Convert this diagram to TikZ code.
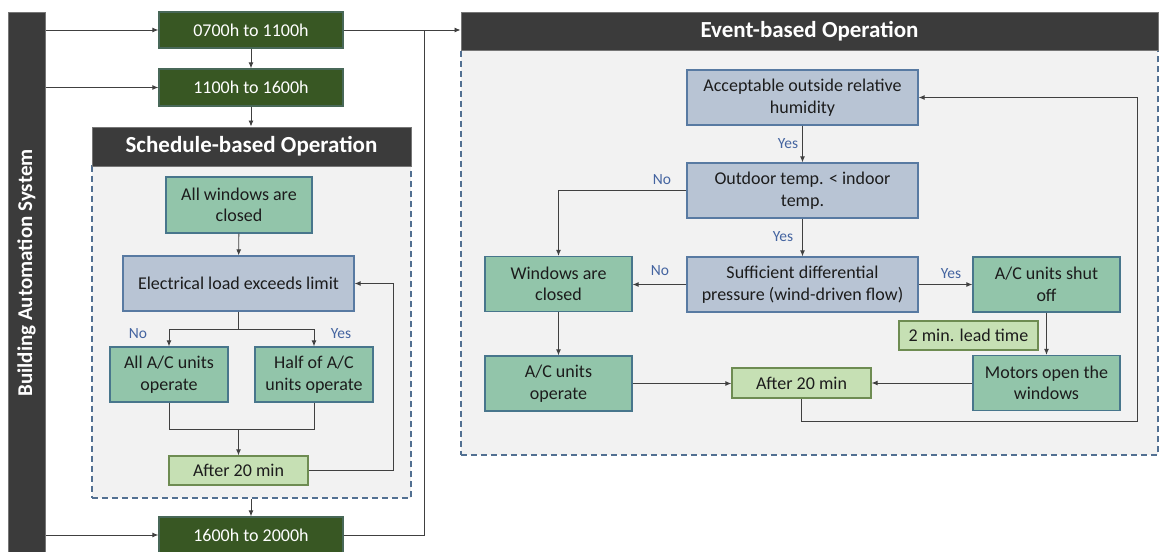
\documentclass[tikz,border=0pt]{standalone}
\usepackage{fontspec}
\setmainfont{Carlito}
\usetikzlibrary{arrows.meta}

\definecolor{timegreen}{RGB}{56,87,35}
\definecolor{timeedge}{RGB}{72,104,88}
\definecolor{actfill}{RGB}{146,197,170}
\definecolor{actedge}{RGB}{72,118,140}
\definecolor{askfill}{RGB}{184,196,212}
\definecolor{askedge}{RGB}{88,122,162}
\definecolor{waitfill}{RGB}{198,224,180}
\definecolor{waitedge}{RGB}{110,140,82}
\definecolor{headgray}{RGB}{59,59,59}
\definecolor{areafill}{RGB}{242,242,242}
\definecolor{areaedge}{RGB}{82,112,146}
\definecolor{linegray}{RGB}{64,64,64}
\definecolor{answerblue}{RGB}{68,100,160}
\definecolor{boxtext}{RGB}{28,28,28}

\tikzset{
	box/.style={draw, line width=1.3pt, inner sep=0pt, align=center, text=boxtext, font=\fontsize{18}{21.5}\selectfont},
	timebox/.style={box, fill=timegreen, draw=timeedge, text=white, minimum width=184, minimum height=36},
	actbox/.style={box, fill=actfill, draw=actedge, minimum width=147, minimum height=55},
	askbox/.style={box, fill=askfill, draw=askedge, minimum width=231, minimum height=55},
	waitbox/.style={box, fill=waitfill, draw=waitedge, minimum width=139, minimum height=29},
	headbar/.style={fill=headgray, draw=headgray!70, line width=1pt, inner sep=0pt, text=white, font=\bfseries\fontsize{23}{27}\selectfont},
	region/.style={fill=areafill, draw=areaedge, line width=1.2pt, dash pattern=on 6pt off 4pt, inner sep=0pt},
	flow/.style={draw=linegray, line width=0.9pt},
	arrow/.style={flow, -{Latex[length=6pt,width=5pt]}},
	answer/.style={text=answerblue, inner sep=0pt, font=\fontsize{15.5}{18}\selectfont},
}

\begin{document}
\begin{tikzpicture}[x=1pt, y=-1pt]
	\useasboundingbox (0,0) rectangle (1163,552);
	% building automation bar
	\node[fill=headgray, draw=headgray!70, line width=1pt, minimum width=37, minimum height=541, inner sep=0pt] (bas) at (26.5,282.5) {};
	\node[rotate=90, text=white, font=\bfseries\fontsize{21}{25}\selectfont] (bastitle) at (26.5,273) {Building Automation System};

	% time slots
	\node[timebox] (morning) at (251,30) {0700h to 1100h};
	\node[timebox, minimum height=37] (midday) at (251,87.5) {1100h to 1600h};
	\node[timebox] (evening) at (251,535) {1600h to 2000h};
	\draw[arrow] (morning.west -| bas.east) -- (morning.west);
	\draw[arrow] (midday.west -| bas.east) -- (midday.west);
	\draw[arrow] (evening.west -| bas.east) -- (evening.west);
	\draw[arrow] (morning) -- (midday);

	% schedule-based operation
	\node[region, minimum width=319, minimum height=332] (schedarea) at (251.5,332) {};
	\node[headbar, minimum width=319, minimum height=39] (schedhead) at (251.5,146.5) {Schedule-based Operation};
	\draw[arrow] (midday.south) -- (midday.south |- schedhead.north);
	\draw[arrow] (evening.north |- schedarea.south) -- (evening.north);

	\node[actbox, minimum width=146, minimum height=56] (allclosed) at (239,205) {All windows are\\closed};
	\node[askbox] (elload) at (238.5,283.5) {Electrical load exceeds limit};
	\node[actbox, minimum width=118] (allac) at (169,374.5) {All A/C units\\operate};
	\node[actbox, minimum width=118] (halfac) at (314,374.5) {Half of A/C\\units operate};
	\node[waitbox] (schedwait) at (238.5,470.5) {After 20 min};

	\coordinate (split) at (238.5,329);
	\coordinate (merge) at (238.5,429);
	\draw[arrow] (allclosed) -- (elload);
	\draw[flow] (elload) -- (split);
	\draw[arrow] (split) -| (allac);
	\draw[arrow] (split) -| (halfac);
	\node[answer] (schedno) at (138,334) {No};
	\node[answer] (schedyes) at (341,334) {Yes};
	\draw[flow] (allac) |- (merge);
	\draw[flow] (halfac) |- (merge);
	\draw[arrow] (merge) -- (schedwait);
	\draw[arrow] (schedwait.east) -- ++(85,0) |- (elload.east);	% back to the load check

	% event-based operation
	\node[region, minimum width=697, minimum height=405] (eventarea) at (809.5,252.5) {};
	\node[headbar, minimum width=697, minimum height=38] (eventhead) at (809.5,31) {Event-based Operation};
	\coordinate (bus) at (424,30);
	\draw[arrow] (morning.east) -- (morning.east -| eventhead.west);
	\draw[flow] (evening.east) -| (bus);

	\node[askbox] (humid) at (802.5,97.5) {Acceptable outside relative\\humidity};
	\node[askbox] (outdoor) at (802.5,190.5) {Outdoor temp. < indoor\\temp.};
	\node[askbox] (pressure) at (802.5,284.5) {Sufficient differential\\pressure (wind-driven flow)};
	\node[actbox] (winclosed) at (558.5,284) {Windows are\\closed};
	\node[actbox] (acop) at (558.5,383.5) {A/C units\\operate};
	\node[actbox] (acoff) at (1046.5,284.5) {A/C units shut\\off};
	\node[actbox] (motors) at (1046.5,383) {Motors open the\\windows};
	\node[waitbox, minimum height=30] (eventwait) at (801.5,383) {After 20 min};
	\node[waitbox] (leadtime) at (968.5,335.5) {2 min. lead time};

	\draw[arrow] (humid) -- (outdoor);
	\node[answer] (humidyes) at (788,144) {Yes};
	\draw[arrow] (outdoor.west) -| (winclosed.north);
	\node[answer] (outdoorno) at (662,180) {No};
	\draw[arrow] (outdoor) -- (pressure);
	\node[answer] (outdooryes) at (783,237) {Yes};
	\draw[arrow] (pressure.west) -- (pressure.west -| winclosed.east);
	\node[answer] (pressureno) at (660,271) {No};
	\draw[arrow] (pressure.east) -- (pressure.east -| acoff.west);
	\node[answer] (pressureyes) at (951,274) {Yes};
	\draw[arrow] (acoff) -- (motors);
	\draw[arrow] (winclosed) -- (acop);
	\draw[arrow] (acop.east) -- (acop.east -| eventwait.west);
	\draw[arrow] (motors.west) -- (eventwait.east);
	\coordinate (loopcorner) at (1137,421);
	\draw[arrow] (eventwait.south) |- (loopcorner) |- (humid.east);	% back to humidity check
\end{tikzpicture}
\end{document}
